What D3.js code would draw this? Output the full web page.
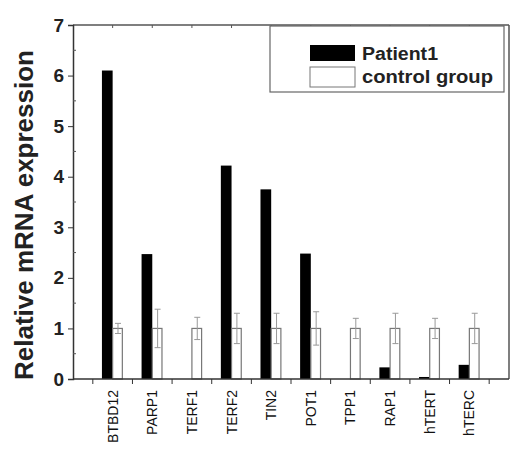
<!DOCTYPE html>
<html>
<head>
<meta charset="utf-8">
<script src="https://cdn.jsdelivr.net/npm/d3@7"></script>
<style>
  body { margin: 0; background: #fff; }
  text { font-family: "Liberation Sans", Arial, sans-serif; }
</style>
</head>
<body>
<div id="chart"></div>
<script>
var genes = ["BTBD12", "PARP1", "TERF1", "TERF2", "TIN2", "POT1", "TPP1", "RAP1", "hTERT", "hTERC"],
    patient = [6.1, 2.47, 0, 4.22, 3.75, 2.48, 0, 0.23, 0.04, 0.28],
    control = [1, 1, 1, 1, 1, 1, 1, 1, 1, 1],
    controlErr = [0.1, 0.38, 0.22, 0.3, 0.3, 0.33, 0.2, 0.3, 0.2, 0.3],
    yTicks = [0, 1, 2, 3, 4, 5, 6, 7];

var width = 512, height = 449;
var x0 = 73, x1 = 509, yTop = 25, yBot = 379;

var svg = d3.select("#chart").append("svg")
    .attr("width", width)
    .attr("height", height);

var x = d3.scaleLinear().domain([0, genes.length + 1]).range([x0, x1]);
var y = d3.scaleLinear().domain([0, 7]).range([yBot, yTop]);
var bw = x(0.27) - x(0);

// frame: top and right
svg.append("line").attr("x1", x0).attr("x2", x1).attr("y1", yTop).attr("y2", yTop)
    .attr("stroke", "#555").attr("stroke-width", 1.5);
svg.append("line").attr("x1", x1).attr("x2", x1).attr("y1", yTop).attr("y2", yBot)
    .attr("stroke", "#555").attr("stroke-width", 1.5);

// top ticks at category centres
svg.selectAll(".topTick")
    .data(genes)
    .enter().append("line")
    .attr("class", "topTick")
    .attr("x1", function(d, i) { return x(i + 1); })
    .attr("x2", function(d, i) { return x(i + 1); })
    .attr("y1", yTop).attr("y2", yTop + 3)
    .attr("stroke", "#555");

// patient bars
svg.selectAll(".pBar")
    .data(patient)
    .enter().append("rect")
    .attr("class", "pBar")
    .attr("x", function(d, i) { return x(i + 1) - bw; })
    .attr("y", function(d) { return y(d); })
    .attr("width", bw)
    .attr("height", function(d) { return yBot - y(d); })
    .attr("fill", "#000");

// control bars
svg.selectAll(".cBar")
    .data(control)
    .enter().append("rect")
    .attr("class", "cBar")
    .attr("x", function(d, i) { return x(i + 1); })
    .attr("y", function(d) { return y(d); })
    .attr("width", bw - 1)
    .attr("height", function(d) { return yBot - y(d); })
    .attr("fill", "#fff")
    .attr("stroke", "#777")
    .attr("stroke-width", 1.2);

// error bars
var err = svg.selectAll(".err")
    .data(control)
    .enter().append("g")
    .attr("class", "err")
    .attr("stroke", "#999")
    .attr("stroke-width", 1);
err.append("line")
    .attr("x1", function(d, i) { return x(i + 1) + bw / 2; })
    .attr("x2", function(d, i) { return x(i + 1) + bw / 2; })
    .attr("y1", function(d, i) { return y(d - controlErr[i]); })
    .attr("y2", function(d, i) { return y(d + controlErr[i]); });
err.append("line")
    .attr("x1", function(d, i) { return x(i + 1) + bw / 2 - 3; })
    .attr("x2", function(d, i) { return x(i + 1) + bw / 2 + 3; })
    .attr("y1", function(d, i) { return y(d + controlErr[i]); })
    .attr("y2", function(d, i) { return y(d + controlErr[i]); });
err.append("line")
    .attr("x1", function(d, i) { return x(i + 1) + bw / 2 - 3; })
    .attr("x2", function(d, i) { return x(i + 1) + bw / 2 + 3; })
    .attr("y1", function(d, i) { return y(d - controlErr[i]); })
    .attr("y2", function(d, i) { return y(d - controlErr[i]); });

// y axis
var yAxis = svg.append("g")
    .attr("transform", "translate(" + x0 + ",0)")
    .call(d3.axisLeft(y).tickValues(yTicks).tickSize(5).tickPadding(4).tickFormat(d3.format("d")));
yAxis.select(".domain").attr("stroke", "#333").attr("stroke-width", 1.5);
yAxis.selectAll(".tick line").attr("stroke", "#333");
yAxis.selectAll("text")
    .style("font-size", "19px")
    .style("font-weight", "bold")
    .attr("fill", "#222");

// minor y ticks pointing inward
svg.selectAll(".yMinor")
    .data(yTicks.slice(0, -1))
    .enter().append("line")
    .attr("class", "yMinor")
    .attr("x1", x0).attr("x2", x0 + 3)
    .attr("y1", function(d) { return y(d + 0.5); })
    .attr("y2", function(d) { return y(d + 0.5); })
    .attr("stroke", "#555");

// x axis
svg.append("line").attr("x1", x0).attr("x2", x1).attr("y1", yBot).attr("y2", yBot)
    .attr("stroke", "#333").attr("stroke-width", 1.5);
var halfTicks = d3.range(genes.length + 1).map(function(i) { return i + 0.5; });
svg.selectAll(".xTick")
    .data(halfTicks)
    .enter().append("line")
    .attr("class", "xTick")
    .attr("x1", function(d) { return x(d); })
    .attr("x2", function(d) { return x(d); })
    .attr("y1", yBot).attr("y2", yBot + 5)
    .attr("stroke", "#333");

svg.selectAll(".xLabel")
    .data(genes)
    .enter().append("text")
    .attr("class", "xLabel")
    .attr("transform", function(d, i) { return "translate(" + (x(i + 1) + 5) + "," + (yBot + 11) + ") rotate(-90)"; })
    .attr("text-anchor", "end")
    .style("font-size", "14px")
    .attr("fill", "#111")
    .text(function(d) { return d; });

// y title
svg.append("text")
    .attr("transform", "translate(33," + 215 + ") rotate(-90)")
    .attr("text-anchor", "middle")
    .attr("textLength", 330)
    .attr("lengthAdjust", "spacingAndGlyphs")
    .style("font-size", "25px")
    .style("font-weight", "bold")
    .attr("fill", "#222")
    .text("Relative mRNA expression");

// legend
var lg = svg.append("g");
lg.append("rect").attr("x", 270).attr("y", yTop + 1).attr("width", 234).attr("height", 66)
    .attr("fill", "#fff").attr("stroke", "#666").attr("stroke-width", 1.2);
lg.append("rect").attr("x", 310).attr("y", 45).attr("width", 45).attr("height", 16).attr("fill", "#000");
lg.append("rect").attr("x", 310).attr("y", 67).attr("width", 45).attr("height", 20)
    .attr("fill", "#fff").attr("stroke", "#777");
lg.append("text").attr("x", 362).attr("y", 60).style("font-size", "18px").style("font-weight", "bold")
    .attr("textLength", 76).attr("lengthAdjust", "spacingAndGlyphs")
    .attr("fill", "#222").text("Patient1");
lg.append("text").attr("x", 362).attr("y", 83).style("font-size", "18px").style("font-weight", "bold")
    .attr("textLength", 131).attr("lengthAdjust", "spacingAndGlyphs")
    .attr("fill", "#222").text("control group");
</script>
</body>
</html>
